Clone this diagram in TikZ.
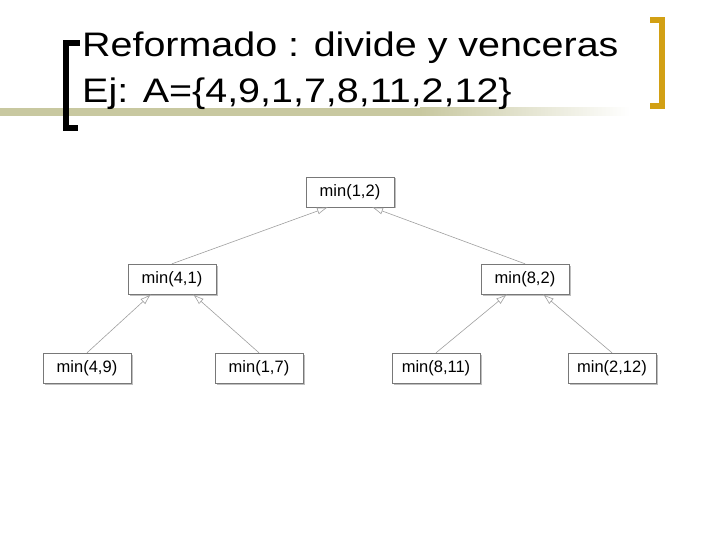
\documentclass[tikz,border=0pt]{standalone}
\usepackage{fontspec}
\setmainfont{Liberation Sans}
\newfontfamily\slidefont[FakeStretch=1.16]{Liberation Sans}
\usepackage{tikz}
\usetikzlibrary{arrows.meta,shadows}
\definecolor{olivebar}{RGB}{200,200,160}
\definecolor{goldbar}{RGB}{210,160,20}
\definecolor{boxgray}{RGB}{120,120,120}

\begin{document}
\begin{tikzpicture}[x=1pt,y=-1pt,
    minbox/.style={draw=boxgray, fill=white, minimum width=88pt, minimum height=30pt,
      inner xsep=5pt, font=\fontsize{16.5}{18}\selectfont,
      drop shadow={opacity=0.5, shadow xshift=1.5pt, shadow yshift=-1.5pt}},
    minarrow/.style={draw=gray!75, line width=0.6pt, -{Latex[open, length=11pt, width=7pt]}},
    title/.style={anchor=base west, inner sep=0pt, font=\slidefont\fontsize{34}{40}\selectfont}]
      \useasboundingbox (0,0) rectangle (720,540);
      \fill[olivebar] (0,108) rectangle (420,116);
      \shade[left color=olivebar, right color=white] (420,108) rectangle (630,116);
      \draw[line width=6pt] (80,43.5) -- (66,43.5) -- (66,128.5) -- (78,128.5);
      \draw[goldbar, line width=6pt] (650,20) -- (662,20) -- (662,106) -- (650,106);
      \node[title] (line1) at (82,57) {Reformado : divide y venceras};
      \node[title] (line2) at (82,103) {Ej: A=\{4,9,1,7,8,11,2,12\}};
      \node[minbox] (m12) at (350,192) {min(1,2)};
      \node[minbox] (m41) at (172,279) {min(4,1)};
      \node[minbox] (m82) at (525,279) {min(8,2)};
      \node[minbox] (m49) at (87,368) {min(4,9)};
      \node[minbox] (m17) at (259,368) {min(1,7)};
      \node[minbox] (m811) at (436,368) {min(8,11)};
      \node[minbox] (m212) at (612,368) {min(2,12)};
      \draw[minarrow] (m41.north) -- ([xshift=-22pt]m12.south);
      \draw[minarrow] (m82.north) -- ([xshift=22pt]m12.south);
      \draw[minarrow] (m49.north) -- ([xshift=-21pt]m41.south);
      \draw[minarrow] (m17.north) -- ([xshift=21pt]m41.south);
      \draw[minarrow] (m811.north) -- ([xshift=-18pt]m82.south);
      \draw[minarrow] (m212.north) -- ([xshift=18pt]m82.south);
    \end{tikzpicture}
\end{document}
